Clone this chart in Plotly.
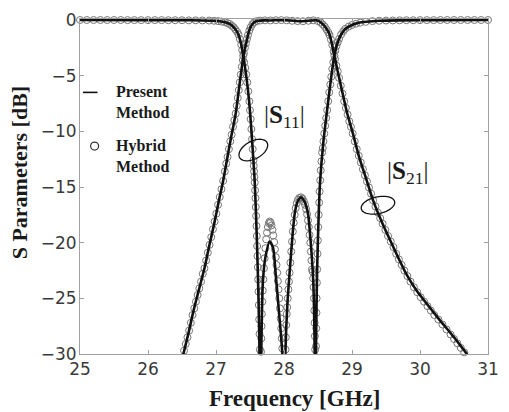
import numpy as np
import plotly.graph_objects as go

# ---------------- data ----------------
# Present method |S21| (dB)
s21_f = [26.45, 26.52, 26.6, 26.67, 26.75, 26.83, 26.9, 26.97, 27.04, 27.1, 27.16, 27.22,
         27.29, 27.35, 27.40, 27.45, 27.49, 27.53, 27.57, 27.62, 27.7, 27.79, 27.9, 28.0,
         28.1, 28.25, 28.4, 28.48, 28.55, 28.62, 28.67, 28.74, 28.8, 28.87, 28.93, 29.0,
         29.1, 29.21, 29.31, 29.45, 29.57, 29.7, 29.78, 29.86, 29.95, 30.05, 30.27, 30.5,
         30.69, 30.8]
s21_db = [-31.8, -30.0, -28.0, -26.1, -24.2, -22.3, -20.3, -18.4, -16.3, -14.6, -12.6, -10.6,
          -8.4, -5.6, -3.4, -1.9, -0.9, -0.4, -0.17, -0.07, -0.03, -0.04, -0.02, -0.01,
          -0.05, -0.11, -0.05, -0.03, -0.25, -0.75, -1.3, -3.2, -4.9, -6.8, -8.4, -9.9,
          -12.2, -14.3, -16.2, -18.3, -19.9, -21.6, -22.6, -23.45, -24.3, -25.1, -26.8, -28.5,
          -30.0, -30.8]

# Present method |S11| (dB)
s11_f = [25.0, 26.0, 26.5, 26.8, 26.97, 27.1, 27.2, 27.27, 27.33, 27.37, 27.40, 27.44,
         27.47, 27.50, 27.535, 27.57, 27.60, 27.625, 27.64, 27.652, 27.665, 27.69, 27.73,
         27.79, 27.84, 27.88, 27.93, 27.975, 27.997, 28.02, 28.05, 28.08, 28.13, 28.16,
         28.2, 28.25, 28.3, 28.35, 28.38, 28.43, 28.452, 28.461, 28.47, 28.48, 28.49, 28.51,
         28.53, 28.58, 28.63, 28.68, 28.74, 28.79, 28.84, 28.9, 29.0, 29.1, 29.21, 29.4,
         29.7, 30.2, 31.0]
s11_db = [0.0, -0.01, -0.02, -0.04, -0.07, -0.16, -0.35, -0.7, -1.3, -2.2, -3.2, -4.8,
          -6.3, -8.2, -11.2, -14.6, -19.5, -25.0, -30.0, -38.0, -30.0, -23.45, -21.2,
          -19.9, -20.5, -23.0, -26.5, -30.0, -40.0, -30.0, -25.5, -22.9, -19.0, -17.3,
          -16.3, -15.93, -16.3, -17.3, -19.0, -23.45, -30.0, -42.0, -30.0, -25.0, -21.8, -17.5,
          -14.6, -10.9, -8.3, -5.8, -3.2, -2.0, -1.3, -0.8, -0.45, -0.25, -0.16, -0.07,
          -0.03, -0.01, 0.0]

# Hybrid method |S21| (dB)
h21_f = [26.53, 26.555, 26.58, 26.605, 26.63, 26.655, 26.68, 26.705, 26.73, 26.755, 26.78,
         26.805, 26.83, 26.855, 26.88, 26.905, 26.93, 26.955, 26.98, 27.005, 27.03, 27.055,
         27.08, 27.105, 27.13, 27.15, 27.17, 27.19, 27.21, 27.23, 27.25, 27.27, 27.29, 27.305,
         27.32, 27.335, 27.35, 27.365, 27.38, 27.395, 27.41, 27.425, 27.44, 27.455, 27.47,
         27.49, 27.51, 27.535, 27.56, 27.6, 27.65, 27.72, 27.8, 27.88, 27.96, 28.04, 28.12,
         28.2, 28.28, 28.36, 28.43, 28.5, 28.54, 28.57, 28.6, 28.625, 28.65, 28.67, 28.69,
         28.71, 28.73, 28.75, 28.77, 28.79, 28.81, 28.835, 28.86, 28.885, 28.91, 28.935, 28.96,
         28.985, 29.01, 29.04, 29.07, 29.1, 29.13, 29.16, 29.19, 29.22, 29.25, 29.28, 29.31,
         29.345, 29.38, 29.415, 29.45, 29.49, 29.53, 29.57, 29.61, 29.65, 29.69, 29.73, 29.77,
         29.815, 29.86, 29.91, 29.96, 30.01, 30.06, 30.11, 30.16, 30.21, 30.27, 30.33, 30.39,
         30.45, 30.5, 30.55, 30.6, 30.65]
h21_db = [-29.7, -29.1, -28.5, -27.9, -27.2, -26.5, -25.9, -25.3, -24.7, -24.1, -23.5,
          -22.8, -22.3, -21.6, -20.9, -20.2, -19.5, -18.8, -18.1, -17.4, -16.6, -15.9,
          -15.2, -14.45, -13.6, -12.9, -12.3, -11.6, -10.9, -10.3, -9.6, -9.0, -8.4, -7.7,
          -7.0, -6.3, -5.6, -4.9, -4.2, -3.6, -3.0, -2.5, -2.1, -1.7, -1.35,
          -0.95, -0.65, -0.38, -0.22, -0.1, -0.05, -0.03, -0.04, -0.02, -0.01, -0.03, -0.07,
          -0.1, -0.11, -0.07, -0.03, -0.1, -0.22, -0.4, -0.6, -0.85, -1.1, -1.35, -1.75,
          -2.25, -2.85, -3.5, -4.1, -4.6, -5.2, -5.9, -6.6, -7.3, -7.9, -8.5, -9.1,
          -9.6, -10.2, -10.9, -11.6, -12.2, -12.8, -13.4, -13.95, -14.5, -15.05, -15.6, -16.2,
          -16.75, -17.3, -17.8, -18.3, -18.85, -19.4, -19.9, -20.4, -21.0, -21.5, -22.0, -22.5,
          -23.0, -23.5, -24.0, -24.45, -24.9, -25.3, -25.7, -26.1, -26.5, -26.9, -27.35, -27.8,
          -28.25, -28.65, -29.05, -29.45, -29.85]

# Hybrid method |S11| (dB)
h11_f = [25.0, 25.1, 25.2, 25.3, 25.4, 25.5, 25.6, 25.7, 25.8, 25.9, 26.0, 26.1, 26.2, 26.3,
         26.4, 26.5, 26.6, 26.7, 26.8, 26.9, 26.97, 27.03, 27.08, 27.13, 27.17, 27.2, 27.23,
         27.26, 27.285, 27.31, 27.33, 27.35, 27.37, 27.385, 27.40, 27.415, 27.43, 27.445,
         27.46, 27.475, 27.49, 27.50, 27.51, 27.52, 27.53, 27.54, 27.55, 27.555, 27.56, 27.565,
         27.57, 27.575, 27.58, 27.585, 27.59, 27.595, 27.60, 27.605, 27.61, 27.615, 27.62,
         27.625, 27.63, 27.635, 27.64, 27.645,
         27.662, 27.666, 27.670, 27.675, 27.681, 27.688, 27.696, 27.705, 27.715, 27.726,
         27.738, 27.75, 27.763, 27.777, 27.79, 27.803, 27.816, 27.829, 27.842, 27.855, 27.867,
         27.879, 27.89, 27.90, 27.91, 27.92, 27.93, 27.94, 27.95, 27.959, 27.967, 27.975,
         28.022, 28.027, 28.033, 28.04, 28.047, 28.055, 28.064, 28.073, 28.083, 28.094, 28.106,
         28.118, 28.13, 28.143, 28.157, 28.172, 28.188, 28.205, 28.225, 28.25, 28.272, 28.292,
         28.31, 28.326, 28.34, 28.353, 28.365, 28.376, 28.386, 28.395, 28.404, 28.412, 28.42,
         28.428, 28.435, 28.441, 28.446, 28.45, 28.454, 28.458,
         28.471, 28.474, 28.477, 28.48, 28.484, 28.488, 28.493, 28.498, 28.504, 28.51, 28.517,
         28.524, 28.532, 28.541, 28.55, 28.56, 28.57, 28.58, 28.592, 28.606, 28.62, 28.635,
         28.65, 28.665, 28.68, 28.695, 28.71, 28.725, 28.74, 28.755, 28.77, 28.79, 28.81, 28.84,
         28.87, 28.9, 28.95, 29.0, 29.06, 29.12, 29.2, 29.3, 29.4, 29.5, 29.6, 29.7, 29.8, 29.9,
         30.0, 30.1, 30.2, 30.3, 30.4, 30.5, 30.6, 30.7, 30.8, 30.9, 31.0]
h11_db = [0.0, 0.0, 0.0, 0.0, 0.0, 0.0, 0.0, -0.01, -0.01, -0.01, -0.01, -0.01, -0.01, -0.02,
          -0.02, -0.02, -0.03, -0.03, -0.04, -0.05, -0.07, -0.1, -0.14, -0.2, -0.28, -0.36, -0.5,
          -0.65, -0.85, -1.05, -1.3, -1.7, -2.2, -2.7, -3.2, -3.8, -4.3, -4.9,
          -5.6, -6.4, -7.3, -8.1, -8.9, -9.8, -10.7, -11.6, -12.6, -13.1, -13.6, -14.1,
          -14.6, -15.3, -16.0, -16.8, -17.6, -18.5, -19.4, -20.3, -21.2, -22.2, -23.3,
          -24.4, -25.6, -26.9, -28.2, -29.6,
          -29.8, -28.6, -27.5, -26.4, -25.3, -24.3, -23.3, -22.3, -21.4, -20.5,
          -19.7, -19.1, -18.6, -18.25, -18.1, -18.2, -18.45, -18.85, -19.35, -19.95, -20.6,
          -21.3, -22.0, -22.7, -23.45, -24.2, -25.0, -25.9, -26.8, -27.7, -28.6, -29.5,
          -29.6, -28.5, -27.4, -26.4, -25.8, -25.0, -24.2, -23.5, -22.7, -21.8, -20.8,
          -19.9, -19.0, -18.2, -17.5, -16.9, -16.45, -16.15, -15.98, -15.93, -16.05, -16.3,
          -16.6, -17.0, -17.45, -18.0, -18.6, -19.3, -20.0, -20.8, -21.6, -22.4, -22.6,
          -23.2, -24.0, -25.0, -26.1, -27.2, -28.4, -29.6,
          -29.3, -27.7, -26.3, -25.0, -23.6, -22.4, -21.0, -19.8, -18.6, -17.5, -16.4,
          -15.4, -14.4, -13.5, -12.7, -11.9, -11.5, -10.9, -10.2, -9.5, -8.8, -8.1,
          -7.3, -6.5, -5.8, -5.1, -4.4, -3.8, -3.2, -2.75, -2.35, -2.0, -1.7, -1.3,
          -1.02, -0.8, -0.6, -0.45, -0.33, -0.24, -0.17, -0.1, -0.07, -0.05, -0.04, -0.03, -0.02, -0.02,
          -0.01, -0.01, -0.01, 0.0, 0.0, 0.0, 0.0, 0.0, 0.0, 0.0, 0.0]

x_ticks = [25, 26, 27, 28, 29, 30, 31]
y_ticks = [0, -5, -10, -15, -20, -25, -30]
y_tick_text = ["0", "\u22125", "\u221210", "\u221215", "\u221220", "\u221225", "\u221230"]

# ---------------- layout geometry ----------------
W, H = 509, 412
ML, MR, MT, MB = 80, 10, 14, 58
PW, PH = W - ML - MR, H - MT - MB
XR = [25, 31]
YR = [-30, 0.09]
ppx = PW / (XR[1] - XR[0])
ppy = PH / (YR[1] - YR[0])

def px2x(px):
    return XR[0] + (px - ML) / ppx

def py2y(py):
    return YR[1] - (py - MT) / ppy

def ellipse_path(cpx, cpy, a, b, ang, n=64):
    t = np.linspace(0, 2 * np.pi, n)
    th = np.deg2rad(ang)
    dx = a * np.cos(t) * np.cos(th) - b * np.sin(t) * np.sin(th)
    dy = a * np.cos(t) * np.sin(th) + b * np.sin(t) * np.cos(th)
    xs = px2x(cpx + dx)
    ys = py2y(cpy - dy)
    return "M " + " L ".join(f"{x:.5f},{y:.5f}" for x, y in zip(xs, ys)) + " Z"

SERIF = "Liberation Serif, Times New Roman, serif"
SANS = "DejaVu Sans, sans-serif"

fig = go.Figure()

hyb_marker = dict(symbol="circle-open", size=7, color="#777777", line=dict(width=1, color="#777777"))
fig.add_trace(go.Scatter(x=h11_f, y=h11_db, mode="markers", marker=hyb_marker,
                         cliponaxis=False, showlegend=False, name="Hybrid Method"))
fig.add_trace(go.Scatter(x=h21_f, y=h21_db, mode="markers", marker=hyb_marker,
                         cliponaxis=False, showlegend=False, name="Hybrid Method"))
fig.add_trace(go.Scatter(x=s11_f, y=s11_db, mode="lines",
                         line=dict(color="#111111", width=2.6, shape="spline", smoothing=0.7),
                         showlegend=False, name="Present Method"))
fig.add_trace(go.Scatter(x=s21_f, y=s21_db, mode="lines",
                         line=dict(color="#111111", width=2.6, shape="spline", smoothing=0.7),
                         showlegend=False, name="Present Method"))

axis_common = dict(showline=True, linecolor="#a0a0a0", linewidth=1, mirror="ticks",
                   ticks="inside", ticklen=4, tickcolor="#a0a0a0", showgrid=False,
                   zeroline=False, tickfont=dict(family=SANS, size=17, color="#3a3a3a"))

fig.update_xaxes(range=XR, tickvals=x_ticks, ticktext=[str(v) for v in x_ticks],
                 ticklabelstandoff=0, **axis_common)
fig.update_yaxes(range=YR, tickvals=y_ticks, ticktext=y_tick_text,
                 ticklabelstandoff=-1, **axis_common)

shapes = [
    dict(type="path", xref="x", yref="y", path=ellipse_path(258, 147, 16, 9, 28),
         line=dict(color="#111111", width=1.3)),
    dict(type="path", xref="x", yref="y", path=ellipse_path(386, 203, 17.5, 8.5, 12),
         line=dict(color="#111111", width=1.3)),
    # legend samples
    dict(type="line", xref="x", yref="y", x0=px2x(83), x1=px2x(98), y0=py2y(88.5), y1=py2y(88.5),
         line=dict(color="#111111", width=1.6)),
    dict(type="circle", xref="x", yref="y", xsizemode="pixel", ysizemode="pixel",
         xanchor=px2x(95), yanchor=py2y(143), x0=-4, x1=4, y0=-4, y1=4,
         line=dict(color="#333333", width=1.2)),
]

def ann(text, px, py, size, family=SERIF, xanchor="center", angle=0, color="#1a1a1a"):
    return dict(text=text, x=(px - ML) / PW, y=1 - (py - MT) / PH, xref="paper", yref="paper",
                xanchor=xanchor, yanchor="middle", showarrow=False, textangle=angle, align="left",
                font=dict(family=family, size=size, color=color))

annotations = [
    ann("<b>Present<br>Method</b>", 115, 98, 16, xanchor="left"),
    ann("<b>Hybrid<br>Method</b>", 115, 153, 16, xanchor="left"),
    ann("|<b>S</b><sub>11</sub>|", 290, 113, 25),
    ann("|<b>S</b><sub>21</sub>|", 416, 170, 25),
    ann("<b>Frequency [GHz]</b>", 300, 399, 23),
    ann("<b>S Parameters [dB]</b>", 18, 170, 22, angle=-90),
]

fig.update_layout(width=W, height=H, margin=dict(l=ML, r=MR, t=MT, b=MB),
                  paper_bgcolor="white", plot_bgcolor="white",
                  shapes=shapes, annotations=annotations, showlegend=False)

fig.write_html("out.html", config={"displayModeBar": False},
               post_script="document.body.style.margin='0px';document.body.style.padding='0px';"
                           "document.body.style.overflow='hidden';")
